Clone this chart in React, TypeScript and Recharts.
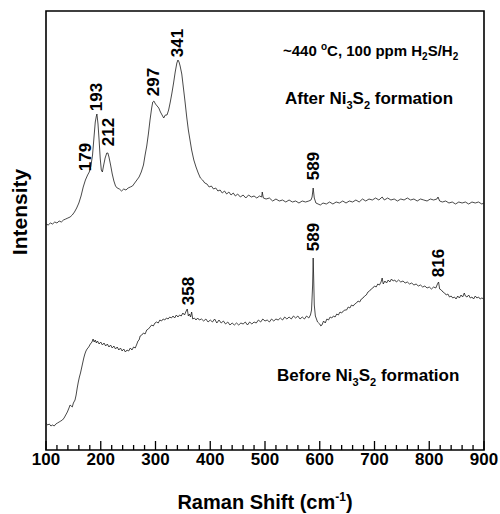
import React from "react";
import {
  LineChart,
  Line,
  XAxis,
  YAxis,
  ReferenceArea,
  ReferenceDot,
  Customized,
} from "recharts";

// Raman shift (cm-1) -> intensity (a.u.)
const afterSpectrum = [
  [100, 226], [104, 225], [108, 227], [112, 226], [116, 228], [120, 227], [124, 229], [128, 228],
  [132, 230], [136, 231], [140, 232], [144, 233], [148, 235], [152, 238], [156, 242], [160, 247],
  [164, 254], [168, 263], [172, 270], [176, 275], [179, 278], [182, 284], [185, 295], [188, 315],
  [190, 328], [192, 334], [193, 336], [195, 326], [197, 310], [199, 292], [201, 280], [203, 278],
  [205, 284], [208, 292], [211, 297], [213, 297], [215, 293], [218, 285], [221, 276], [224, 269],
  [227, 264], [230, 262], [234, 261], [238, 259], [242, 261], [246, 260], [250, 262], [254, 263],
  [258, 264], [262, 267], [266, 270], [270, 273], [274, 278], [278, 285], [281, 295], [284, 304],
  [287, 316], [290, 330], [293, 342], [295, 348], [297, 349], [300, 346], [303, 344], [306, 342],
  [309, 338], [312, 335], [315, 332], [318, 335], [321, 335], [324, 340], [327, 348], [330, 357],
  [333, 367], [336, 378], [339, 387], [341, 390], [343, 388], [345, 384], [348, 376], [351, 362],
  [354, 348], [357, 333], [360, 320], [363, 310], [366, 300], [370, 290], [374, 283], [378, 277],
  [382, 272], [386, 270], [390, 267], [394, 266], [398, 263], [402, 264], [406, 261], [410, 262],
  [414, 259], [418, 260], [422, 257], [426, 259], [430, 256], [434, 258], [438, 255], [442, 257],
  [446, 254], [450, 256], [455, 253], [460, 255], [465, 252], [470, 255], [475, 253], [480, 254],
  [485, 252], [490, 254], [494, 253], [495, 258], [497, 252], [502, 251], [508, 252], [514, 249],
  [520, 251], [526, 249], [532, 250], [538, 248], [544, 250], [550, 248], [556, 249], [562, 247],
  [568, 249], [574, 248], [580, 249], [584, 250], [586, 253], [588, 262], [590, 252], [593, 247],
  [597, 246], [601, 245], [606, 247], [612, 246], [618, 248], [624, 246], [630, 248], [636, 247],
  [642, 249], [648, 247], [654, 249], [660, 248], [666, 250], [672, 248], [678, 251], [684, 249],
  [690, 251], [696, 250], [702, 252], [708, 250], [714, 253], [718, 250], [724, 252], [730, 250],
  [736, 251], [742, 249], [748, 251], [754, 250], [760, 252], [766, 250], [772, 251], [778, 249],
  [784, 251], [790, 250], [796, 249], [802, 251], [808, 250], [814, 251], [816, 253], [819, 249],
  [824, 248], [830, 249], [836, 247], [842, 248], [848, 246], [854, 248], [860, 247], [866, 248],
  [872, 246], [878, 248], [884, 247], [890, 248], [896, 246], [900, 247],
];

const beforeSpectrum = [
  [100, 27], [103, 25], [106, 26], [109, 24], [112, 25], [115, 24], [118, 26], [121, 27],
  [124, 28], [127, 29], [130, 30], [133, 32], [136, 35], [139, 38], [142, 42], [144, 45],
  [146, 44], [148, 43], [150, 47], [153, 50], [155, 55], [157, 62], [159, 68], [161, 73],
  [163, 77], [165, 82], [167, 87], [169, 92], [171, 96], [173, 99], [175, 101], [178, 103],
  [181, 106], [184, 108], [186, 111], [188, 108], [190, 110], [192, 107], [194, 109], [197, 106],
  [200, 108], [203, 105], [206, 107], [209, 104], [212, 106], [215, 103], [218, 105], [221, 102],
  [224, 104], [227, 101], [230, 103], [233, 100], [236, 102], [239, 99], [242, 101], [245, 98],
  [248, 100], [251, 99], [254, 102], [257, 100], [260, 103], [263, 102], [266, 106], [268, 109],
  [270, 110], [272, 114], [275, 115], [278, 117], [281, 116], [284, 120], [287, 121], [290, 123],
  [293, 125], [296, 124], [299, 127], [302, 128], [305, 127], [308, 130], [311, 129], [314, 131],
  [317, 130], [320, 132], [323, 131], [326, 133], [329, 132], [332, 134], [335, 132], [338, 135],
  [341, 133], [344, 135], [347, 134], [350, 137], [353, 135], [356, 139], [358, 141], [360, 134],
  [362, 136], [364, 133], [366, 138], [368, 131], [371, 132], [374, 130], [377, 132], [380, 130],
  [384, 131], [388, 129], [392, 131], [396, 128], [400, 130], [404, 128], [408, 131], [412, 127],
  [416, 130], [420, 127], [424, 129], [428, 126], [432, 128], [436, 125], [440, 127], [444, 125],
  [448, 127], [452, 125], [456, 127], [460, 126], [464, 128], [468, 125], [472, 128], [476, 126],
  [480, 128], [484, 127], [488, 130], [492, 128], [496, 131], [500, 129], [504, 130], [508, 128],
  [512, 131], [516, 129], [520, 131], [524, 130], [528, 132], [532, 130], [536, 133], [540, 131],
  [544, 133], [548, 131], [552, 134], [556, 132], [560, 134], [564, 131], [568, 133], [572, 131],
  [576, 134], [580, 132], [583, 135], [585, 140], [587, 165], [588, 192], [589, 170], [590, 145],
  [592, 134], [594, 131], [596, 128], [598, 127], [600, 126], [602, 124], [604, 125], [607, 129],
  [610, 127], [613, 131], [616, 130], [619, 133], [622, 132], [625, 134], [628, 133], [631, 136],
  [634, 135], [637, 138], [640, 137], [643, 139], [646, 140], [649, 140], [652, 143], [655, 142],
  [658, 145], [661, 144], [664, 146], [667, 147], [670, 149], [673, 148], [676, 151], [679, 152],
  [682, 154], [685, 155], [688, 158], [691, 159], [694, 161], [697, 162], [700, 164], [703, 163],
  [706, 166], [709, 165], [712, 168], [714, 172], [716, 166], [719, 169], [722, 167], [725, 170],
  [728, 168], [731, 171], [734, 169], [737, 170], [740, 168], [744, 170], [748, 168], [752, 169],
  [756, 167], [760, 168], [764, 166], [768, 167], [772, 165], [776, 166], [780, 164], [784, 165],
  [788, 163], [792, 164], [796, 162], [800, 163], [804, 161], [808, 163], [812, 162], [815, 166],
  [817, 168], [819, 161], [822, 160], [825, 158], [828, 157], [831, 155], [834, 156], [837, 153],
  [840, 154], [843, 152], [846, 153], [849, 151], [852, 154], [855, 152], [858, 155], [861, 153],
  [864, 157], [866, 154], [869, 153], [872, 155], [875, 152], [878, 153], [881, 151], [884, 154],
  [887, 152], [890, 153], [893, 151], [896, 152], [900, 151],
];

// peak labels: text, x of the label, intensity at label centre
const peakLabels = [
  { text: "179", x: 172, y: 293 },
  { text: "193", x: 191, y: 353 },
  { text: "212", x: 213, y: 318 },
  { text: "297", x: 295, y: 368 },
  { text: "341", x: 340, y: 407 },
  { text: "589", x: 587, y: 284 },
  { text: "358", x: 359, y: 159 },
  { text: "589", x: 588, y: 213 },
  { text: "816", x: 816, y: 187 },
];

const majorTicks = [100, 200, 300, 400, 500, 600, 700, 800, 900];
const allTicks = majorTicks.flatMap((t, i) =>
  i < majorTicks.length - 1 ? [t, t + 20, t + 40, t + 60, t + 80] : [t]
);

const toPoints = (rows: number[][]) => rows.map(([x, y]) => ({ x, y }));
const afterData = toPoints(afterSpectrum);
const beforeData = toPoints(beforeSpectrum);

const FONT = "'Liberation Sans', Arial, Helvetica, sans-serif";

const AxisTick = (props: any) => {
  const { x, y, payload } = props;
  const major = majorTicks.includes(payload.value);
  return (
    <g>
      <line x1={x} x2={x} y1={y} y2={y - (major ? 9 : 5)} stroke="#000" strokeWidth={1.3} />
      {major && (
        <text x={x} y={y + 15} textAnchor="middle" fontFamily={FONT} fontWeight="bold" fontSize={17} fill="#000">
          {payload.value}
        </text>
      )}
    </g>
  );
};

const PeakText = (text: string) => (p: any) => (
  <text
    transform={`translate(${p.cx + 6},${p.cy}) rotate(-90)`}
    textAnchor="middle"
    fontFamily={FONT}
    fontWeight="bold"
    fontSize={17}
    fill="#000"
  >
    {text}
  </text>
);

const Annotations = () => (
  <g fontFamily={FONT} fontWeight="bold" fill="#000">
    <text x={283} y={56} fontSize={15}>
      ~440 <tspan dy={-6} fontSize={10}>o</tspan>
      <tspan dy={6}>C, 100 ppm H</tspan>
      <tspan dy={4} fontSize={10}>2</tspan>
      <tspan dy={-4}>S/H</tspan>
      <tspan dy={4} fontSize={10}>2</tspan>
    </text>
    <text x={285} y={104} fontSize={17}>
      After Ni<tspan dy={5} fontSize={11}>3</tspan>
      <tspan dy={-5}>S</tspan>
      <tspan dy={5} fontSize={11}>2</tspan>
      <tspan dy={-5}> formation</tspan>
    </text>
    <text x={277} y={381} fontSize={17}>
      Before Ni<tspan dy={5} fontSize={11}>3</tspan>
      <tspan dy={-5}>S</tspan>
      <tspan dy={5} fontSize={11}>2</tspan>
      <tspan dy={-5}> formation</tspan>
    </text>
    <text x={265} y={509} fontSize={20} textAnchor="middle">
      Raman Shift (cm<tspan dy={-8} fontSize={12}>-1</tspan>
      <tspan dy={8}>)</tspan>
    </text>
    <text transform="translate(27,212) rotate(-90)" fontSize={21} textAnchor="middle">
      Intensity
    </text>
  </g>
);

export default function App() {
  return (
    <div style={{ position: "absolute", left: 0, top: 0, background: "#fff" }}>
      <LineChart width={500} height={514} margin={{ top: 11, right: 16, left: 46, bottom: 34 }}>
        <XAxis
          type="number"
          dataKey="x"
          domain={[100, 900]}
          ticks={allTicks}
          interval={0}
          tickSize={0}
          tickMargin={0}
          tickLine={false}
          axisLine={false}
          tick={<AxisTick />}
          height={30}
          allowDataOverflow
        />
        <YAxis hide type="number" domain={[0, 439]} allowDataOverflow />
        <Line data={afterData} dataKey="y" stroke="#1a1a1a" strokeWidth={0.8} dot={false} isAnimationActive={false} />
        <Line data={beforeData} dataKey="y" stroke="#1a1a1a" strokeWidth={0.8} dot={false} isAnimationActive={false} />
        <ReferenceArea x1={100} x2={900} y1={0} y2={439} fill="none" stroke="#000" strokeWidth={1.6} />
        {peakLabels.map((p, i) => (
          <ReferenceDot key={i} x={p.x} y={p.y} r={0} shape={PeakText(p.text)} />
        ))}
        <Customized component={Annotations} />
      </LineChart>
    </div>
  );
}
